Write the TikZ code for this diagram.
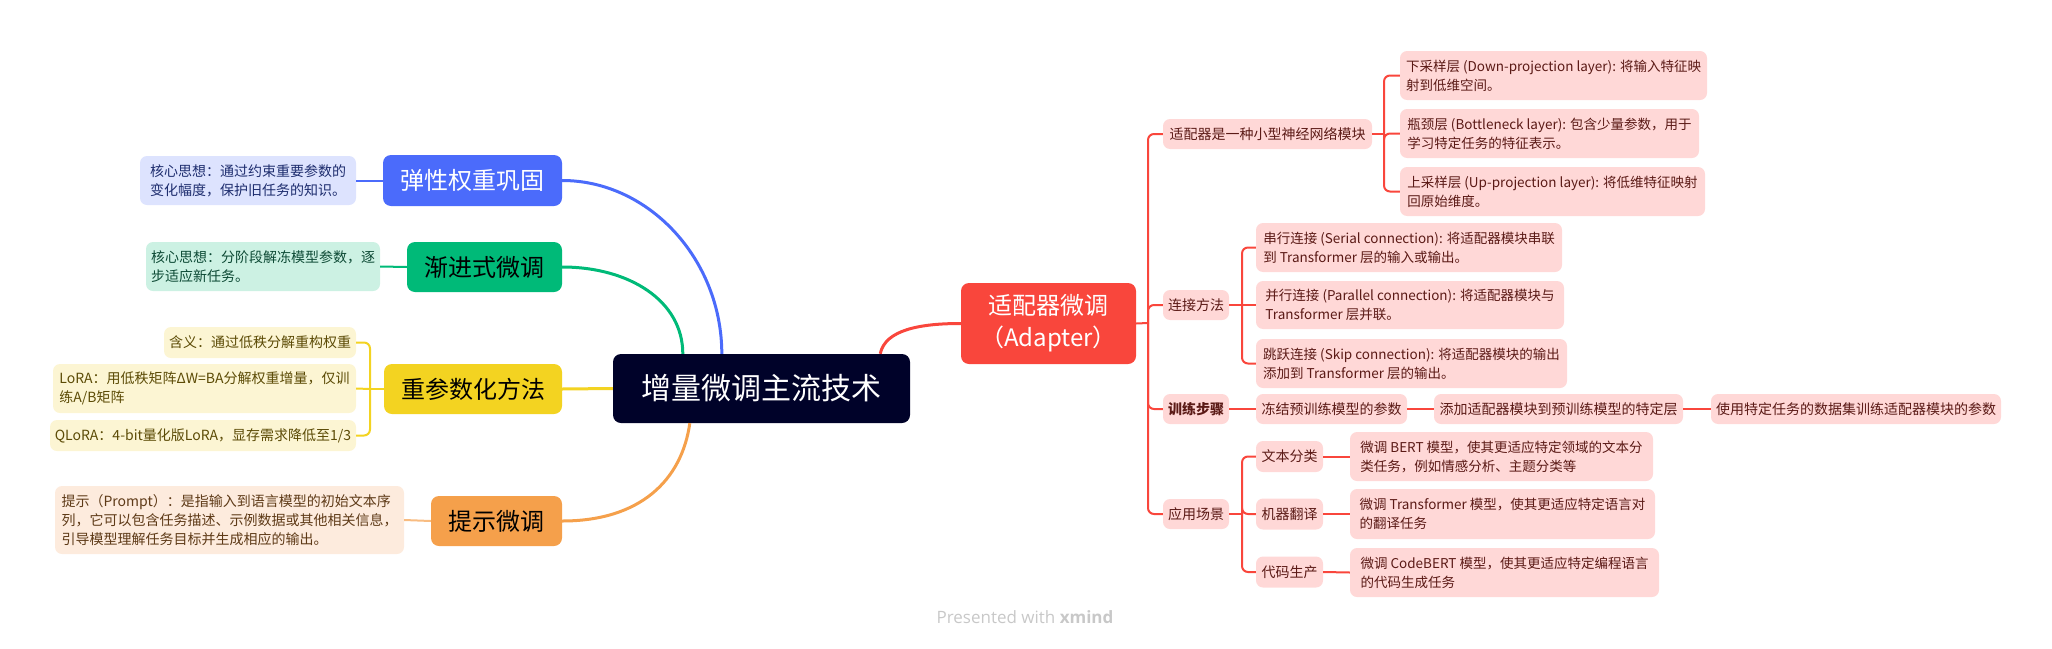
\documentclass[tikz,border=0pt]{standalone}
\usepackage{fontspec}
\setmainfont{Noto Sans CJK SC}
\newfontfamily\wmfont{Open Sans}
\usetikzlibrary{calc}
\definecolor{rootnavy}{HTML}{000229}
\definecolor{ewcblue}{HTML}{4B6BFB}
\definecolor{ewcnotefill}{HTML}{DDE3FE}
\definecolor{ewcnotetext}{HTML}{1E2D6E}
\definecolor{progreen}{HTML}{00BA78}
\definecolor{prognotefill}{HTML}{CCF1E3}
\definecolor{prognotetext}{HTML}{0D4A35}
\definecolor{reparyellow}{HTML}{F3D321}
\definecolor{reparnotefill}{HTML}{FCF5D3}
\definecolor{reparnotetext}{HTML}{5C4B06}
\definecolor{promptorange}{HTML}{F5A04B}
\definecolor{promptnotefill}{HTML}{FDEBDD}
\definecolor{promptnotetext}{HTML}{5E3A17}
\definecolor{adapterred}{HTML}{F9463C}
\definecolor{adapternotefill}{HTML}{FFD8D7}
\definecolor{adapternotetext}{HTML}{5B1A16}
\definecolor{wmgray}{HTML}{C8C8C8}
\begin{document}
\begin{tikzpicture}[x=1pt,y=-1pt,
  topic/.style={rounded corners=8pt, inner sep=0pt, align=center,
    font=\fontsize{24}{32}\selectfont},
  note/.style={rounded corners=7pt, inner sep=0pt, align=left,
    font=\fontsize{14}{19}\selectfont},
  rednote/.style={note, fill=adapternotefill, text=adapternotetext},
  longnote/.style={rednote, font=\fontsize{13.5}{19}\selectfont},
  mainline/.style={line width=3pt},
  noteline/.style={line width=2pt},
  treeline/.style={draw=adapterred, line width=2pt, rounded corners=6pt}]
				\useasboundingbox (0,0) rectangle (2052,648);
				% root
				\node[topic, fill=rootnavy, text=white, minimum width=297pt, minimum height=69pt,
				  font=\fontsize{30}{36}\selectfont] (root) at (761.5,388.5) {增量微调主流技术};
				% left side
				\node[topic, fill=ewcblue, text=white, minimum width=179pt, minimum height=51pt] (ewc) at (472.5,180.5) {弹性权重巩固};
				\node[note, fill=ewcnotefill, text=ewcnotetext, minimum width=216pt, minimum height=49pt] (ewcnote) at (248,180.5) {核心思想：通过约束重要参数的\\变化幅度，保护旧任务的知识。};
				\node[topic, fill=progreen, text=black, minimum width=155pt, minimum height=50pt] (prog) at (484.5,267) {渐进式微调};
				\node[note, fill=prognotefill, text=prognotetext, minimum width=234pt, minimum height=49pt] (prognote) at (263,266.5) {核心思想：分阶段解冻模型参数，逐\\步适应新任务。};
				\node[topic, fill=reparyellow, text=black, minimum width=178pt, minimum height=50pt] (repar) at (473,389) {重参数化方法};
				\node[note, fill=reparnotefill, text=reparnotetext, minimum width=192pt, minimum height=31pt] (rpn1) at (260,342.5) {含义：通过低秩分解重构权重};
				\node[note, fill=reparnotefill, text=reparnotetext, minimum width=303pt, minimum height=49pt] (rpn2) at (204.5,388.5) {LoRA：用低秩矩阵ΔW=BA分解权重增量，仅训\\练A/B矩阵};
				\node[note, fill=reparnotefill, text=reparnotetext, minimum width=306pt, minimum height=31pt] (rpn3) at (203,435.5) {QLoRA：4-bit量化版LoRA，显存需求降低至1/3};
				\node[topic, fill=promptorange, text=black, minimum width=131pt, minimum height=50pt] (prompt) at (496.5,521) {提示微调};
				\node[note, fill=promptnotefill, text=promptnotetext, minimum width=349pt, minimum height=68pt] (promptnote) at (229.5,520) {提示（Prompt）：是指输入到语言模型的初始文本序\\列，它可以包含任务描述、示例数据或其他相关信息，\\引导模型理解任务目标并生成相应的输出。};
				% right side
				\node[topic, fill=adapterred, text=white, minimum width=175pt, minimum height=81pt] (adapter) at (1048.5,323.5) {适配器微调\\（Adapter）};
				\node[rednote, minimum width=209pt, minimum height=30pt] (a1) at (1267.5,134) {适配器是一种小型神经网络模块};
				\node[longnote, minimum width=307pt, minimum height=49pt] (a11) at (1553.5,75.5) {下采样层 (Down-projection layer): 将输入特征映\\射到低维空间。};
				\node[longnote, minimum width=299pt, minimum height=49pt] (a12) at (1549.5,133.5) {瓶颈层 (Bottleneck layer): 包含少量参数，用于\\学习特定任务的特征表示。};
				\node[longnote, minimum width=305pt, minimum height=49pt] (a13) at (1552.5,191.5) {上采样层 (Up-projection layer): 将低维特征映射\\回原始维度。};
				\node[rednote, minimum width=66pt, minimum height=30pt] (a2) at (1196,305) {连接方法};
				\node[longnote, minimum width=306pt, minimum height=49pt] (a21) at (1409,247.5) {串行连接 (Serial connection): 将适配器模块串联\\到 Transformer 层的输入或输出。};
				\node[longnote, minimum width=308pt, minimum height=48pt] (a22) at (1410,305) {并行连接 (Parallel connection): 将适配器模块与\\Transformer 层并联。};
				\node[longnote, minimum width=311pt, minimum height=49pt] (a23) at (1411.5,363.5) {跳跃连接 (Skip connection): 将适配器模块的输出\\添加到 Transformer 层的输出。};
				\node[rednote, minimum width=66pt, minimum height=30pt, font=\fontsize{14}{19}\selectfont\bfseries] (a3) at (1196,409) {训练步骤};
				\node[rednote, minimum width=151pt, minimum height=30pt] (a31) at (1331.5,409) {冻结预训练模型的参数};
				\node[rednote, minimum width=249pt, minimum height=30pt] (a32) at (1558.5,409) {添加适配器模块到预训练模型的特定层};
				\node[rednote, minimum width=290pt, minimum height=30pt] (a33) at (1856,409) {使用特定任务的数据集训练适配器模块的参数};
				\node[rednote, minimum width=66pt, minimum height=30pt] (a4) at (1196,514) {应用场景};
				\node[rednote, minimum width=67pt, minimum height=31pt] (a41) at (1289.5,456.5) {文本分类};
				\node[longnote, minimum width=303pt, minimum height=49pt] (a411) at (1501.5,456.5) {微调 BERT 模型，使其更适应特定领域的文本分\\类任务，例如情感分析、主题分类等};
				\node[rednote, minimum width=67pt, minimum height=31pt] (a42) at (1289.5,514) {机器翻译};
				\node[longnote, minimum width=305pt, minimum height=50pt] (a421) at (1502.5,514) {微调 Transformer 模型，使其更适应特定语言对\\的翻译任务};
				\node[rednote, minimum width=67pt, minimum height=31pt] (a43) at (1289.5,572) {代码生产};
				\node[longnote, minimum width=309pt, minimum height=49pt] (a431) at (1504.5,572.5) {微调 CodeBERT 模型，使其更适应特定编程语言\\的代码生成任务};
				% main curves
				\draw[mainline, ewcblue] ($(root.north west)+(109,0)$) .. controls +(0,-94) and +(87,0) .. (ewc.east);
				\draw[mainline, progreen] ($(root.north west)+(70,0)$) .. controls +(0,-53) and +(67,0) .. (prog.east);
				\draw[mainline, reparyellow] (root.west) -- (repar.east);
				\draw[mainline, promptorange] ($(root.south west)+(77,0)$) .. controls +(-8,57) and +(78,0) .. (prompt.east);
				\draw[mainline, adapterred] ($(root.north east)+(-30,0)$) .. controls +(5,-24) and +(-41,0) .. (adapter.west);
				% left notes
				\draw[noteline, ewcblue] (ewcnote.east) -- (ewc.west);
				\draw[noteline, progreen] (prognote.east) -- (prog.west);
				\coordinate (reparfork) at (370,389);
				\draw[noteline, reparyellow] (repar.west) -- (reparfork);
				\draw[noteline, reparyellow, rounded corners=6pt] (reparfork) |- (rpn1.east);
				\draw[noteline, reparyellow] (reparfork) -- (rpn2.east);
				\draw[noteline, reparyellow, rounded corners=6pt] (reparfork) |- (rpn3.east);
				\draw[noteline, promptorange!70] (promptnote.east) -- (prompt.west);
				% right tree
				\coordinate (adapterfork) at (1148,323);
				\coordinate (a1fork) at (1384,134);
				\coordinate (a2fork) at (1242,305);
				\coordinate (a4fork) at (1242,514);
				\draw[treeline] (adapter.east) -- (adapterfork);
				\draw[treeline] (adapterfork) |- (a1.west);
				\draw[treeline] (adapterfork) |- (a2.west);
				\draw[treeline] (adapterfork) |- (a3.west);
				\draw[treeline] (adapterfork) |- (a4.west);
				\draw[treeline] (a1.east) -- (a1fork);
				\draw[treeline] (a1fork) |- (a11.west);
				\draw[treeline] (a1fork) |- (a12.west);
				\draw[treeline] (a1fork) |- (a13.west);
				\draw[treeline] (a2.east) -- (a2fork);
				\draw[treeline] (a2fork) |- (a21.west);
				\draw[treeline] (a2fork) -- (a22.west);
				\draw[treeline] (a2fork) |- (a23.west);
				\draw[treeline] (a3.east) -- (a31.west);
				\draw[treeline] (a31.east) -- (a32.west);
				\draw[treeline] (a32.east) -- (a33.west);
				\draw[treeline] (a4.east) -- (a4fork);
				\draw[treeline] (a4fork) |- (a41.west);
				\draw[treeline] (a4fork) |- (a42.west);
				\draw[treeline] (a4fork) |- (a43.west);
				\draw[treeline] (a41.east) -- (a411.west);
				\draw[treeline] (a42.east) -- (a421.west);
				\draw[treeline] (a43.east) -- (a431.west);
				% watermark
				\node[font=\wmfont\fontsize{17}{20}\selectfont, text=wmgray] (watermark) at (1025,617) {Presented with \textbf{xmind}};
			\end{tikzpicture}
\end{document}
